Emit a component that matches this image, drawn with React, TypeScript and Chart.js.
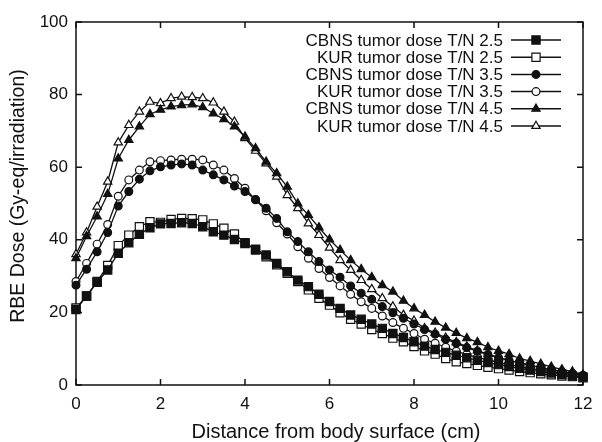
import React, { useEffect, useRef } from "react";
import { Chart, registerables } from "chart.js";

Chart.register(...registerables);

const distances = [
  0, 0.25, 0.5, 0.75, 1, 1.25, 1.5, 1.75, 2, 2.25, 2.5, 2.75, 3, 3.25, 3.5, 3.75,
  4, 4.25, 4.5, 4.75, 5, 5.25, 5.5, 5.75, 6, 6.25, 6.5, 6.75, 7, 7.25, 7.5, 7.75,
  8, 8.25, 8.5, 8.75, 9, 9.25, 9.5, 9.75, 10, 10.25, 10.5, 10.75, 11, 11.25, 11.5, 11.75, 12,
];

const cbns25 = [
  20.8, 24.5, 28.3, 31.7, 36.3, 39.2, 41.5, 43.3, 44.4, 44.5, 44.7, 44.5, 43.6, 42.2, 41.3, 40.1,
  39.0, 37.4, 35.8, 33.5, 31.2, 28.9, 27.1, 25.0, 23.0, 21.1, 19.3, 18.1, 16.8, 15.6, 14.2, 13.1,
  11.9, 10.7, 9.8, 9.0, 8.2, 7.5, 6.8, 6.2, 5.6, 5.1, 4.6, 4.1, 3.7, 3.3, 2.9, 2.5, 2.2,
];
const kur25 = [
  21.2, 24.5, 28.5, 32.9, 38.4, 41.3, 43.6, 45.0, 44.8, 45.6, 45.9, 45.8, 45.5, 44.4, 43.2, 41.6,
  39.2, 37.2, 35.3, 33.1, 30.8, 28.5, 26.2, 23.9, 22.0, 19.9, 18.1, 16.8, 15.3, 14.2, 12.9, 11.9,
  10.6, 9.4, 8.5, 7.3, 6.4, 5.9, 5.4, 4.9, 4.5, 4.1, 3.7, 3.4, 3.1, 2.8, 2.5, 2.3, 2.0,
];
const cbns35 = [
  27.5, 31.9, 36.7, 42.0, 49.3, 53.3, 56.7, 59.0, 60.1, 60.6, 60.9, 60.6, 59.2, 57.9, 56.5, 54.8,
  53.3, 51.1, 48.7, 45.9, 42.2, 39.5, 36.7, 34.0, 31.7, 29.7, 27.3, 25.3, 23.6, 21.6, 19.9, 18.4,
  16.8, 15.3, 14.0, 12.6, 11.5, 10.3, 9.3, 8.4, 7.5, 6.8, 6.1, 5.4, 4.8, 4.3, 3.7, 3.2, 2.7,
];
const kur35 = [
  28.5, 33.5, 38.8, 44.2, 52.0, 56.5, 59.2, 61.5, 61.8, 62.0, 62.2, 62.2, 62.0, 60.6, 59.2, 56.9,
  54.2, 51.0, 48.0, 44.7, 41.6, 38.1, 34.9, 32.1, 29.6, 27.3, 25.0, 22.9, 21.1, 19.0, 17.2, 15.6,
  14.2, 12.6, 11.5, 10.4, 9.3, 8.4, 7.6, 6.9, 6.2, 5.6, 5.1, 4.6, 4.1, 3.7, 3.3, 2.9, 2.5,
];
const cbns45 = [
  34.9, 41.0, 46.4, 52.6, 62.4, 67.5, 71.2, 74.6, 75.8, 76.7, 77.1, 77.3, 76.5, 74.8, 73.2, 71.2,
  68.4, 65.2, 61.5, 58.3, 54.6, 50.0, 46.8, 43.4, 40.1, 37.2, 34.4, 31.9, 29.7, 27.5, 25.7, 23.2,
  21.1, 19.3, 17.4, 15.8, 14.3, 12.9, 11.8, 10.4, 9.4, 8.5, 7.3, 6.6, 5.8, 5.0, 4.3, 3.7, 2.8,
];
const kur45 = [
  36.0, 42.0, 49.1, 56.0, 66.8, 71.6, 75.3, 78.0, 77.6, 79.0, 79.4, 79.3, 79.0, 77.8, 75.3, 72.5,
  68.0, 64.5, 61.0, 57.4, 52.3, 48.7, 44.5, 41.3, 37.8, 34.4, 31.7, 28.9, 26.4, 23.9, 21.6, 19.3,
  17.7, 15.6, 14.4, 13.0, 11.8, 10.6, 9.5, 8.5, 7.6, 6.8, 6.1, 5.4, 4.8, 4.2, 3.7, 3.2, 2.6,
];

const seriesLabels = [
  "CBNS tumor dose T/N 2.5",
  "KUR tumor dose T/N 2.5",
  "CBNS tumor dose T/N 3.5",
  "KUR tumor dose T/N 3.5",
  "CBNS tumor dose T/N 4.5",
  "KUR tumor dose T/N 4.5",
];
const seriesValues = [cbns25, kur25, cbns35, kur35, cbns45, kur45];
const seriesShapes = ["rect", "rect", "circle", "circle", "triangle", "triangle"];
const seriesFilled = [true, false, true, false, true, false];
const seriesRadius = [5.8, 5.8, 3.9, 3.9, 4.8, 4.8];

const xTicks = [0, 2, 4, 6, 8, 10, 12];
const yTicks = [0, 20, 40, 60, 80, 100];

const xTitle = "Distance from body surface (cm)";
const yTitle = "RBE Dose (Gy-eq/irradiation)";

const INK = "#111111";
const FONT = "'Liberation Sans', Arial, sans-serif";

function drawMarker(ctx: CanvasRenderingContext2D, shape: string, x: number, y: number, r: number, filled: boolean) {
  ctx.save();
  ctx.beginPath();
  if (shape === "rect") {
    const s = Math.SQRT1_2 * r;
    ctx.rect(x - s, y - s, 2 * s, 2 * s);
  } else if (shape === "circle") {
    ctx.arc(x, y, r, 0, Math.PI * 2);
  } else {
    const a = -Math.PI / 2;
    ctx.moveTo(x + Math.cos(a) * r, y + Math.sin(a) * r);
    ctx.lineTo(x + Math.cos(a + (2 * Math.PI) / 3) * r, y + Math.sin(a + (2 * Math.PI) / 3) * r);
    ctx.lineTo(x + Math.cos(a + (4 * Math.PI) / 3) * r, y + Math.sin(a + (4 * Math.PI) / 3) * r);
    ctx.closePath();
  }
  ctx.fillStyle = filled ? INK : "#ffffff";
  ctx.fill();
  ctx.lineWidth = 1.2;
  ctx.strokeStyle = INK;
  ctx.stroke();
  ctx.restore();
}

const framePlugin = {
  id: "frame",
  beforeDatasetsDraw(chart: any) {
    const { ctx, chartArea } = chart;
    const { left, right, top, bottom } = chartArea;
    const xs = chart.scales.x;
    const ys = chart.scales.y;
    const tl = 6;
    ctx.save();
    ctx.strokeStyle = INK;
    ctx.lineWidth = 1.5;
    ctx.strokeRect(left, top, right - left, bottom - top);
    ctx.beginPath();
    xTicks.forEach((v) => {
      const px = xs.getPixelForValue(v);
      ctx.moveTo(px, bottom);
      ctx.lineTo(px, bottom - tl);
      ctx.moveTo(px, top);
      ctx.lineTo(px, top + tl);
    });
    yTicks.forEach((v) => {
      const py = ys.getPixelForValue(v);
      ctx.moveTo(left, py);
      ctx.lineTo(left + tl, py);
      ctx.moveTo(right, py);
      ctx.lineTo(right - tl, py);
    });
    ctx.stroke();
    ctx.restore();
  },
  afterDraw(chart: any) {
    const { ctx } = chart;
    ctx.save();
    // axis titles
    ctx.fillStyle = INK;
    ctx.font = `20px ${FONT}`;
    ctx.textAlign = "center";
    ctx.textBaseline = "middle";
    ctx.fillText(xTitle, 336, 432);
    ctx.save();
    ctx.translate(19, 196);
    ctx.rotate(-Math.PI / 2);
    ctx.font = `19.5px ${FONT}`;
    ctx.fillText(yTitle, 0, 0);
    ctx.restore();

    // legend
    const textRight = 503;
    const lineL = 511;
    const lineR = 561;
    const top = 40;
    const step = 17.2;
    ctx.font = `17px ${FONT}`;
    ctx.textAlign = "right";
    ctx.textBaseline = "middle";
    seriesLabels.forEach((label, i) => {
      const y = top + i * step;
      ctx.fillStyle = INK;
      ctx.fillText(label, textRight, y + 1);
      ctx.beginPath();
      ctx.strokeStyle = INK;
      ctx.lineWidth = 1.5;
      ctx.moveTo(lineL, y);
      ctx.lineTo(lineR, y);
      ctx.stroke();
      drawMarker(ctx, seriesShapes[i], (lineL + lineR) / 2, y, seriesRadius[i], seriesFilled[i]);
    });
    ctx.restore();
  },
};

export default function App() {
  const ref = useRef<HTMLCanvasElement | null>(null);

  useEffect(() => {
    document.body.style.margin = "0";
    const canvas = ref.current;
    if (!canvas) return;
    const datasets = seriesLabels.map((label, i) => ({
      label,
      data: distances.map((d, j) => ({ x: d, y: seriesValues[i][j] })),
      borderColor: INK,
      borderWidth: 1.3,
      backgroundColor: seriesFilled[i] ? INK : "#ffffff",
      pointStyle: seriesShapes[i],
      pointRadius: seriesRadius[i],
      pointBorderWidth: 1.2,
      pointBorderColor: INK,
      pointBackgroundColor: seriesFilled[i] ? INK : "#ffffff",
      tension: 0,
      clip: false,
    }));
    const chart = new Chart(canvas, {
      type: "line",
      data: { datasets: datasets as any },
      options: {
        animation: false,
        responsive: false,
        maintainAspectRatio: false,
        layout: { padding: { top: 22, right: 19, left: 0, bottom: 0 } },
        plugins: { legend: { display: false }, tooltip: { enabled: false } },
        scales: {
          x: {
            type: "linear",
            min: 0,
            max: 12,
            grid: { display: false, drawTicks: false },
            border: { display: false },
            ticks: {
              stepSize: 2,
              padding: 9,
              color: INK,
              font: { family: FONT, size: 17 },
              maxRotation: 0,
            },
            afterFit(scale: any) {
              scale.height = 57;
            },
          },
          y: {
            min: 0,
            max: 100,
            grid: { display: false, drawTicks: false },
            border: { display: false },
            ticks: {
              stepSize: 20,
              padding: 8,
              color: INK,
              font: { family: FONT, size: 17 },
            },
            afterFit(scale: any) {
              scale.width = 76;
            },
          },
        },
      },
      plugins: [framePlugin],
    });
    return () => chart.destroy();
  }, []);

  return <canvas ref={ref} width={602} height={442} style={{ display: "block" }} />;
}
